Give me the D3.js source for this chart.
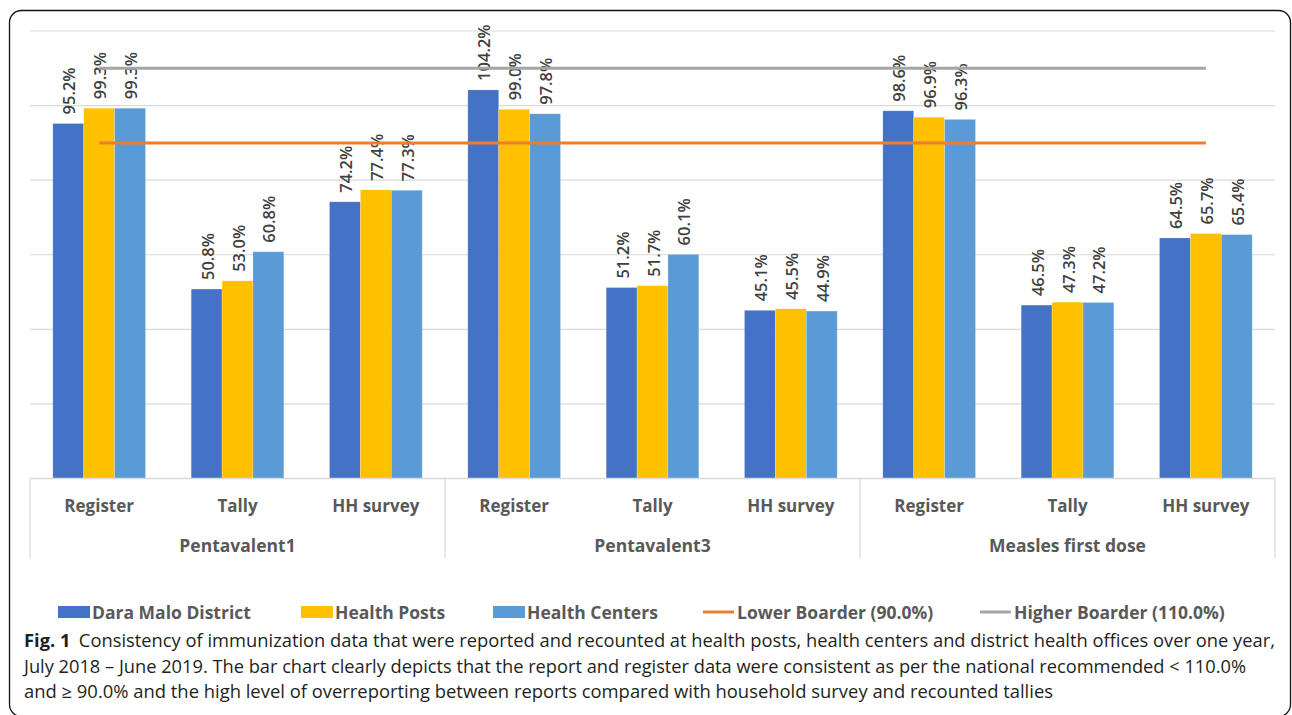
<!DOCTYPE html>
<html><head><meta charset="utf-8">
<script src="https://cdn.jsdelivr.net/npm/d3@7"></script>
<style>body{margin:0;background:#fff}svg{display:block}</style>
</head><body><svg id="c" width="1292" height="715"></svg>
<script>
const groups = ["Pentavalent1","Pentavalent3","Measles first dose"];
const subcats = ["Register","Tally","HH survey"];
const seriesNames = ["Dara Malo District","Health Posts","Health Centers"];
const seriesColors = ["#4472C4","#FFC000","#5B9BD5"];
const daraMalo     = [95.2,50.8,74.2, 104.2,51.2,45.1, 98.6,46.5,64.5];
const healthPosts  = [99.3,53.0,77.4, 99.0,51.7,45.5, 96.9,47.3,65.7];
const healthCenters= [99.3,60.8,77.3, 97.8,60.1,44.9, 96.3,47.2,65.4];
const lowerBorder = 90.0, higherBorder = 110.0;
const yTicks = [0,20,40,60,80,100,120];
const captionLines = [
 "Consistency of immunization data that were reported and recounted at health posts, health centers and district health offices over one year,",
 "July 2018 \u2013 June 2019. The bar chart clearly depicts that the report and register data were consistent as per the national recommended < 110.0%",
 "and \u2265 90.0% and the high level of overreporting between reports compared with household survey and recounted tallies"
];

const svg = d3.select("#c");
const L=30, R=1275, T=31, B=478.5;
const cats = [];
groups.forEach(g=>subcats.forEach(s=>cats.push(g+"|"+s)));
const series=[daraMalo,healthPosts,healthCenters];

const x = d3.scaleBand().domain(cats).range([L,R]).paddingInner(0.33).paddingOuter(0.165);
const xs = d3.scaleBand().domain([0,1,2]).range([0,x.bandwidth()]);
const xg = d3.scaleBand().domain(groups).range([L,R]);
const y = d3.scaleLinear().domain([0,120]).range([B,T]);

// frame
svg.append("rect").attr("x",9.5).attr("y",10.5).attr("width",1281).attr("height",706).attr("rx",12)
  .attr("fill","none").attr("stroke","#111").attr("stroke-width",1.3);

// gridlines
svg.append("g").selectAll("line").data(yTicks.slice(1)).join("line")
  .attr("x1",L).attr("x2",R).attr("y1",d=>y(d)).attr("y2",d=>y(d))
  .attr("stroke","#d9d9d9").attr("stroke-width",1.2);

// bars
const cc = (d)=>x(d)+x.bandwidth()/2;
const labelLayer = svg.append("g");
series.forEach((arr,si)=>{
  const g=svg.append("g");
  g.selectAll("rect").data(cats).join("rect")
    .attr("x",(d)=>x(d)+xs(si)).attr("width",xs.bandwidth())
    .attr("y",(d,i)=>y(arr[i])).attr("height",(d,i)=>B-y(arr[i]))
    .attr("fill",seriesColors[si]).attr("stroke","#ffffff").attr("stroke-opacity",0.35).attr("stroke-width",0.6);
  labelLayer.append("g").selectAll("text").data(cats).join("text")
    .attr("transform",(d,i)=>`translate(${x(d)+xs(si)+xs.bandwidth()/2+7},${y(arr[i])-9}) rotate(-90)`)
    .attr("font-family","Open Sans, sans-serif").attr("font-size",16.5).attr("font-weight",600)
    .attr("fill","#404040")
    .text((d,i)=>arr[i].toFixed(1)+"%");
});

// border lines
const lx1 = cc(cats[0]), lx2 = cc(cats[cats.length-1]);
svg.append("line").attr("x1",lx1).attr("x2",lx2).attr("y1",y(higherBorder)).attr("y2",y(higherBorder))
  .attr("stroke","#A5A5A5").attr("stroke-width",3);
svg.append("line").attr("x1",lx1).attr("x2",lx2).attr("y1",y(lowerBorder)).attr("y2",y(lowerBorder))
  .attr("stroke","#ED7D31").attr("stroke-width",3);

// category axis
svg.append("line").attr("x1",L).attr("x2",R).attr("y1",B).attr("y2",B).attr("stroke","#d9d9d9").attr("stroke-width",1.5);
const divs = groups.map(g=>xg(g)).concat([R]);
svg.append("g").selectAll("line").data(divs).join("line")
  .attr("x1",d=>d).attr("x2",d=>d).attr("y1",B).attr("y2",558)
  .attr("stroke","#d9d9d9").attr("stroke-width",1.2);
svg.append("g").selectAll("text").data(cats).join("text")
  .attr("x",d=>cc(d)).attr("y",512).attr("text-anchor","middle")
  .attr("font-family","Open Sans, sans-serif").attr("font-size",17).attr("font-weight",700)
  .attr("fill","#595959").text(d=>d.split("|")[1]);
svg.append("g").selectAll("text").data(groups).join("text")
  .attr("x",d=>xg(d)+xg.bandwidth()/2).attr("y",552).attr("text-anchor","middle")
  .attr("font-family","Open Sans, sans-serif").attr("font-size",17.5).attr("font-weight",700)
  .attr("fill","#595959").text(d=>d);

// legend
const legItems = [
  {name:seriesNames[0],color:seriesColors[0],type:"rect",x:58},
  {name:seriesNames[1],color:seriesColors[1],type:"rect",x:301},
  {name:seriesNames[2],color:seriesColors[2],type:"rect",x:493},
  {name:"Lower Boarder ("+lowerBorder.toFixed(1)+"%)",color:"#ED7D31",type:"line",x:703},
  {name:"Higher Boarder ("+higherBorder.toFixed(1)+"%)",color:"#A5A5A5",type:"line",x:980}
];
const lg = svg.append("g");
legItems.forEach(it=>{
  if(it.type==="rect") lg.append("rect").attr("x",it.x).attr("y",606).attr("width",32).attr("height",12).attr("fill",it.color);
  else lg.append("line").attr("x1",it.x).attr("x2",it.x+31).attr("y1",612).attr("y2",612).attr("stroke",it.color).attr("stroke-width",3);
  lg.append("text").attr("x",it.x+34).attr("y",618.5)
    .attr("font-family","Open Sans, sans-serif").attr("font-size",17.5).attr("font-weight",700)
    .attr("fill","#595959").text(it.name);
});

// caption
const cap = svg.append("g").attr("font-family","Open Sans, sans-serif").attr("fill","#231f20");
const lineW=[1251,1222,1029];
captionLines.forEach((t,i)=>{
  const tx = cap.append("text").attr("x",24).attr("y",647+i*25.5).attr("font-size",17.5);
  if(i===0){
    tx.append("tspan").attr("font-weight",700).text("Fig. 1");
    tx.append("tspan").attr("dx",8).text(t);
  } else tx.text(t);
  tx.attr("textLength",lineW[i]).attr("lengthAdjust","spacingAndGlyphs");
});
</script></body></html>
